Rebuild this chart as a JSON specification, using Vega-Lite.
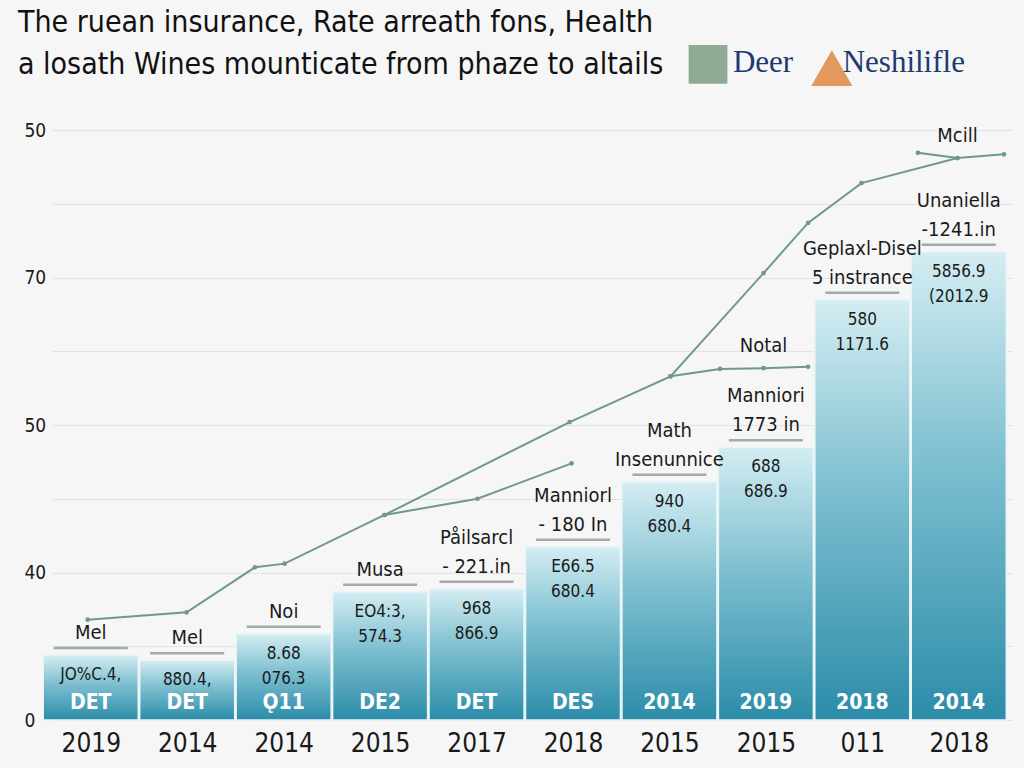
{
  "$schema": "https://vega.github.io/schema/vega-lite/v6.json",
  "autosize": {"type": "none"},
  "width": 960,
  "height": 590,
  "padding": {"left": 52, "top": 130, "right": 12, "bottom": 48},
  "background": "#f6f6f6",
  "config": {
    "view": {"stroke": null},
    "font": "DejaVu Sans Condensed",
    "text": {"font": "DejaVu Sans Condensed"}
  },
  "title": {
    "text": ["The ruean insurance, Rate arreath fons, Health", "a losath Wines mounticate from phaze to altails"],
    "anchor": "start",
    "frame": "group",
    "dx": -34,
    "offset": -65,
    "baseline": "bottom",
    "fontSize": 30,
    "fontWeight": "normal",
    "lineHeight": 42,
    "color": "#111111",
    "font": "DejaVu Sans Condensed"
  },
  "datasets": {
    "bars": [
      {"x": 0.5, "y": 8.8, "year": "2019", "inner": "DET", "val": "JO%C.4,", "ann2": "Mel"},
      {"x": 1.5, "y": 8.1, "year": "2014", "inner": "DET", "val": "880.4,", "ann2": "Mel"},
      {"x": 2.5, "y": 11.7, "year": "2014", "inner": "Ǫ11", "val": "8.68\n076.3", "ann2": "Noi"},
      {"x": 3.5, "y": 17.4, "year": "2015", "inner": "DE2", "val": "EO4:3,\n574.3", "ann2": "Musa"},
      {"x": 4.5, "y": 17.8, "year": "2017", "inner": "DET", "val": "968\n866.9", "ann1": "Påilsarcl", "ann2": "- 221.in"},
      {"x": 5.5, "y": 23.5, "year": "2018", "inner": "DES", "val": "E66.5\n680.4", "ann1": "Manniorl", "ann2": "- 180 In"},
      {"x": 6.5, "y": 32.3, "year": "2015", "inner": "2014", "val": "940\n680.4", "ann1": "Math", "ann2": "Insenunnice"},
      {"x": 7.5, "y": 37.0, "year": "2015", "inner": "2019", "val": "688\n686.9", "ann1": "Manniori", "ann2": "1773 in"},
      {"x": 8.5, "y": 57.0, "year": "011", "inner": "2018", "val": "580\n1171.6", "ann1": "Geplaxl-Disel", "ann2": "5 instrance"},
      {"x": 9.5, "y": 63.5, "year": "2018", "inner": "2014", "val": "5856.9\n(2012.9", "ann1": "Unaniella", "ann2": "-1241.in"}
    ],
    "lines": [
      {"s": "A", "x": 0.468, "y": 13.6},
      {"s": "A", "x": 1.494, "y": 14.6},
      {"s": "A", "x": 2.202, "y": 20.7},
      {"s": "A", "x": 2.51, "y": 21.2},
      {"s": "A", "x": 3.546, "y": 27.8},
      {"s": "A", "x": 5.465, "y": 40.4},
      {"s": "A", "x": 6.511, "y": 46.6},
      {"s": "A", "x": 7.476, "y": 60.6},
      {"s": "A", "x": 7.937, "y": 67.4},
      {"s": "A", "x": 8.491, "y": 72.8},
      {"s": "A", "x": 9.487, "y": 76.2},
      {"s": "B", "x": 3.546, "y": 27.8},
      {"s": "B", "x": 4.51, "y": 30.0},
      {"s": "B", "x": 5.485, "y": 34.8},
      {"s": "C", "x": 6.511, "y": 46.6},
      {"s": "C", "x": 7.024, "y": 47.6},
      {"s": "C", "x": 7.476, "y": 47.7, "lab": "Notal"},
      {"s": "C", "x": 7.937, "y": 47.9},
      {"s": "D", "x": 9.076, "y": 76.9},
      {"s": "D", "x": 9.487, "y": 76.2, "lab": "Mcill"},
      {"s": "D", "x": 9.969, "y": 76.7}
    ],
    "logos": [
      {"x": 6.9, "y": 88.9, "kind": "green"},
      {"x": 8.184, "y": 88.4, "kind": "orange"}
    ],
    "logotext": [
      {"x": 7.47, "y": 89.1, "t": "Deer"},
      {"x": 8.93, "y": 89.1, "t": "Neshilifle"}
    ]
  },
  "encoding": {
    "x": {
      "field": "x", "type": "quantitative",
      "scale": {"domain": [0.15, 10], "nice": false, "zero": false},
      "axis": {
        "title": null, "values": [0.5, 1.5, 2.5, 3.5, 4.5, 5.5, 6.5, 7.5, 8.5, 9.5],
        "labelExpr": "['2019','2014','2014','2015','2017','2018','2015','2015','011','2018'][floor(datum.value)]",
        "labelFontSize": 26, "labelColor": "#1a1a1a", "labelPadding": 10,
        "ticks": false, "domain": false, "grid": false, "labelFont": "DejaVu Sans Condensed"
      }
    },
    "y": {
      "field": "y", "type": "quantitative",
      "scale": {"domain": [0, 80], "nice": false, "zero": true},
      "axis": {
        "title": null, "values": [0, 10, 20, 30, 40, 50, 60, 70, 80],
        "labelExpr": "datum.value==0?'0':datum.value==20?'40':datum.value==40?'50':datum.value==60?'70':datum.value==80?'50':''",
        "labelFontSize": 19, "labelColor": "#1a1a1a", "labelPadding": 28, "labelAlign": "left",
        "ticks": false, "domain": false, "grid": true, "gridColor": "#e3e3e3", "gridWidth": 1.2,
        "labelFont": "DejaVu Sans Condensed"
      }
    }
  },
  "layer": [
    {
      "data": {"name": "bars"},
      "mark": {
        "type": "bar", "width": 95, "stroke": "#eaf5f7", "strokeWidth": 1.5,
        "color": {"gradient": "linear", "x1": 0, "y1": 0, "x2": 0, "y2": 1,
          "stops": [{"offset": 0, "color": "#d4edf2"}, {"offset": 0.45, "color": "#7dbfd0"}, {"offset": 1, "color": "#2b8ca9"}]}
      }
    },
    {
      "data": {"name": "bars"},
      "mark": {"type": "tick", "orient": "horizontal", "size": 74, "thickness": 2.5, "color": "#7d8c87", "yOffset": -7}
    },
    {
      "data": {"name": "bars"},
      "mark": {"type": "text", "baseline": "alphabetic", "dy": -16, "fontSize": 20, "color": "#1a1a1a"},
      "encoding": {"text": {"field": "ann2"}}
    },
    {
      "data": {"name": "bars"},
      "transform": [{"filter": "datum.ann1 != null"}],
      "mark": {"type": "text", "baseline": "alphabetic", "dy": -45, "fontSize": 20, "color": "#1a1a1a"},
      "encoding": {"text": {"field": "ann1"}}
    },
    {
      "data": {"name": "bars"},
      "mark": {"type": "text", "baseline": "top", "dy": 12, "fontSize": 17, "lineHeight": 25, "lineBreak": "\n", "color": "#1a1a1a"},
      "encoding": {"text": {"field": "val"}}
    },
    {
      "data": {"name": "bars"},
      "mark": {"type": "text", "baseline": "middle", "dy": -17, "fontSize": 21, "fontWeight": "bold", "color": "#ffffff"},
      "encoding": {"y": {"datum": 0}, "text": {"field": "inner"}}
    },
    {
      "data": {"name": "lines"},
      "mark": {"type": "line", "color": "#6f9a84", "strokeWidth": 2},
      "encoding": {"detail": {"field": "s"}}
    },
    {
      "data": {"name": "lines"},
      "mark": {"type": "point", "filled": true, "color": "#6f9a84", "size": 22, "opacity": 1}
    },
    {
      "data": {"name": "lines"},
      "transform": [{"filter": "datum.lab != null"}],
      "mark": {"type": "text", "dy": -22, "fontSize": 20, "color": "#1a1a1a"},
      "encoding": {"text": {"field": "lab"}}
    },
    {
      "data": {"name": "logos"},
      "mark": {"type": "point", "filled": true, "opacity": 1},
      "encoding": {
        "shape": {"field": "kind", "type": "nominal", "scale": {"domain": ["green", "orange"], "range": ["square", "triangle-up"]}, "legend": null},
        "color": {"field": "kind", "type": "nominal", "scale": {"domain": ["green", "orange"], "range": ["#8fab94", "#e3995c"]}, "legend": null},
        "size": {"field": "kind", "type": "nominal", "scale": {"domain": ["green", "orange"], "range": [1500, 1700]}, "legend": null}
      }
    },
    {
      "data": {"name": "logotext"},
      "mark": {"type": "text", "font": "Liberation Serif", "fontSize": 31, "color": "#1e3a72", "baseline": "middle"},
      "encoding": {"text": {"field": "t"}}
    }
  ]
}
